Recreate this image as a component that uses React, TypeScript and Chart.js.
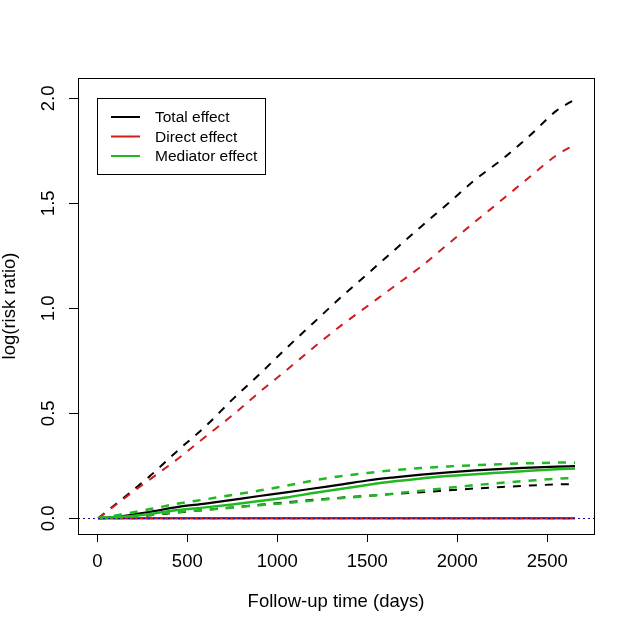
import React, { useEffect, useRef } from 'react';
import Chart from 'chart.js/auto';

// follow-up time grid (days) shared by all curves
const followUpDays = [5, 150, 300, 450, 600, 750, 900, 1050, 1200, 1350, 1500, 1650, 1800, 1950, 2100, 2250, 2400, 2550, 2654];

// total effect and its confidence band
const totalEffect = [0, 0.012, 0.032, 0.054, 0.07, 0.088, 0.106, 0.123, 0.142, 0.16, 0.18, 0.195, 0.208, 0.219, 0.228, 0.235, 0.241, 0.246, 0.248];
const totalUpper = [0, 0.1, 0.207, 0.325, 0.437, 0.565, 0.685, 0.81, 0.93, 1.05, 1.163, 1.277, 1.39, 1.5, 1.613, 1.71, 1.82, 1.94, 1.995];
const totalLower = [0, 0.004, 0.015, 0.028, 0.04, 0.052, 0.064, 0.076, 0.088, 0.098, 0.107, 0.116, 0.124, 0.133, 0.142, 0.149, 0.156, 0.161, 0.163];

// direct effect and its confidence band
const directEffect = [0, 0, 0, 0, 0, 0, 0, 0, 0, 0, 0, 0, 0, 0, 0, 0, 0, 0, 0];
const directUpper = [0, 0.095, 0.19, 0.285, 0.388, 0.49, 0.6, 0.705, 0.812, 0.915, 1.01, 1.105, 1.2, 1.307, 1.413, 1.518, 1.624, 1.728, 1.78];
const directLower = [0, 0, 0, 0, 0, 0, 0, 0, 0, 0, 0, 0, 0, 0, 0, 0, 0, 0, 0];

// mediator effect and its confidence band
const mediatorEffect = [0, 0.008, 0.022, 0.04, 0.052, 0.066, 0.082, 0.099, 0.12, 0.14, 0.159, 0.176, 0.19, 0.201, 0.21, 0.218, 0.226, 0.233, 0.237];
const mediatorUpper = [0, 0.02, 0.045, 0.07, 0.09, 0.111, 0.132, 0.155, 0.18, 0.2, 0.216, 0.229, 0.239, 0.247, 0.253, 0.258, 0.262, 0.265, 0.266];
const mediatorLower = [0, 0.005, 0.017, 0.03, 0.04, 0.051, 0.062, 0.073, 0.085, 0.096, 0.106, 0.118, 0.131, 0.145, 0.158, 0.169, 0.179, 0.188, 0.192];

const xTicks = [0, 500, 1000, 1500, 2000, 2500];
const yTicks = [0, 0.5, 1, 1.5, 2];
const referenceLevel = 0;

const legendLabels = ['Total effect', 'Direct effect', 'Mediator effect'];

const BLACK = '#000000';
const RED = '#D01C1C';
const GREEN = '#22B822';
const legendColors = [BLACK, RED, GREEN];

const FONT = 'Liberation Sans, Arial, sans-serif';

const toPoints = (ys: number[]) => followUpDays.map((t, i) => ({ x: t, y: ys[i] }));

// box around the plot region, like R's box()
const boxPlugin = {
    id: 'plotBox',
    afterDraw(chart: any) {
        const { ctx, chartArea } = chart;
        ctx.save();
        ctx.strokeStyle = '#000';
        ctx.lineWidth = 1;
        ctx.strokeRect(chartArea.left + 0.5, chartArea.top + 0.5, chartArea.right - chartArea.left, chartArea.bottom - chartArea.top);
        ctx.restore();
    }
};

// abline(h = 0, lty = 3, col = 'blue')
const refLinePlugin = {
    id: 'refLine',
    afterDatasetsDraw(chart: any) {
        const { ctx, chartArea, scales } = chart;
        const y = Math.round(scales.y.getPixelForValue(referenceLevel)) + 0.5;
        ctx.save();
        ctx.strokeStyle = '#1010A0';
        ctx.lineWidth = 1;
        ctx.setLineDash([2, 3]);
        ctx.beginPath();
        ctx.moveTo(chartArea.left, y);
        ctx.lineTo(chartArea.right, y);
        ctx.stroke();
        ctx.restore();
    }
};

// R-style boxed legend in the top left corner
const legendPlugin = {
    id: 'rLegend',
    afterDraw(chart: any) {
        const { ctx, chartArea } = chart;
        const left = chartArea.left + 19;
        const top = chartArea.top + 20;
        ctx.save();
        ctx.strokeStyle = '#000';
        ctx.lineWidth = 1;
        ctx.strokeRect(left + 0.5, top + 0.5, 168, 76);
        ctx.font = `15.5px ${FONT}`;
        ctx.textBaseline = 'middle';
        ctx.textAlign = 'left';
        legendLabels.forEach((label, i) => {
            const y = top + 19 + i * 19.5;
            ctx.strokeStyle = legendColors[i];
            ctx.lineWidth = 2;
            ctx.beginPath();
            ctx.moveTo(left + 14, y);
            ctx.lineTo(left + 43, y);
            ctx.stroke();
            ctx.fillStyle = '#000';
            ctx.fillText(label, left + 58, y + 1);
        });
        ctx.restore();
    }
};

const App: React.FC = () => {
    const canvasRef = useRef<HTMLCanvasElement>(null);
    const chartRef = useRef<Chart>();

    useEffect(() => {
        document.body.style.margin = '0';
        if (!canvasRef.current) return;
        const ctx = canvasRef.current.getContext('2d');
        if (!ctx) return;
        if (chartRef.current) chartRef.current.destroy();

        const dashed = [8, 8];
        chartRef.current = new Chart(ctx, {
            type: 'line',
            data: {
                datasets: [
                    { label: 'Mediator effect', data: toPoints(mediatorEffect), borderColor: GREEN, borderWidth: 2.5, order: 1 },
                    { label: 'Mediator upper', data: toPoints(mediatorUpper), borderColor: GREEN, borderWidth: 2.5, borderDash: dashed, order: 2 },
                    { label: 'Mediator lower', data: toPoints(mediatorLower), borderColor: GREEN, borderWidth: 2.5, borderDash: dashed, order: 3 },
                    { label: 'Direct effect', data: toPoints(directEffect), borderColor: RED, borderWidth: 2.5, order: 4 },
                    { label: 'Direct upper', data: toPoints(directUpper), borderColor: RED, borderWidth: 2, borderDash: dashed, order: 5 },
                    { label: 'Direct lower', data: toPoints(directLower), borderColor: RED, borderWidth: 2, borderDash: dashed, order: 6 },
                    { label: 'Total effect', data: toPoints(totalEffect), borderColor: BLACK, borderWidth: 2.2, order: 7 },
                    { label: 'Total upper', data: toPoints(totalUpper), borderColor: BLACK, borderWidth: 2, borderDash: dashed, order: 8 },
                    { label: 'Total lower', data: toPoints(totalLower), borderColor: BLACK, borderWidth: 2, borderDash: dashed, order: 9 }
                ]
            },
            options: {
                animation: false,
                responsive: false,
                devicePixelRatio: 1,
                layout: { padding: { top: 78, right: 40, left: 0, bottom: 0 } },
                elements: {
                    point: { radius: 0 },
                    line: { cubicInterpolationMode: 'monotone', fill: false }
                },
                plugins: {
                    legend: { display: false },
                    tooltip: { enabled: false }
                },
                scales: {
                    x: {
                        type: 'linear',
                        min: -107.2,
                        max: 2759.4,
                        afterBuildTicks: (scale: any) => { scale.ticks = xTicks.map(v => ({ value: v })); },
                        afterFit: (scale: any) => { scale.height = 99; },
                        grid: { display: true, drawOnChartArea: false, drawTicks: true, tickLength: 8, color: '#000', tickColor: '#000' },
                        border: { display: false },
                        ticks: {
                            color: '#000',
                            padding: 9,
                            maxRotation: 0,
                            font: { family: FONT, size: 18.5 },
                            callback: (v: any) => String(v)
                        },
                        title: {
                            display: true,
                            text: 'Follow-up time (days)',
                            color: '#000',
                            font: { family: FONT, size: 18.5 },
                            padding: { top: 0, bottom: 20 }
                        }
                    },
                    y: {
                        type: 'linear',
                        min: -0.0748,
                        max: 2.0967,
                        afterBuildTicks: (scale: any) => { scale.ticks = yTicks.map(v => ({ value: v })); },
                        afterFit: (scale: any) => { scale.width = 78; },
                        grid: { display: true, drawOnChartArea: false, drawTicks: true, tickLength: 9, color: '#000', tickColor: '#000' },
                        border: { display: false },
                        ticks: {
                            color: '#000',
                            padding: 7,
                            minRotation: 90,
                            maxRotation: 90,
                            crossAlign: 'center',
                            font: { family: FONT, size: 18.5 },
                            callback: (v: any) => Number(v).toFixed(1)
                        },
                        title: {
                            display: true,
                            text: 'log(risk ratio)',
                            color: '#000',
                            font: { family: FONT, size: 18.5 },
                            padding: { top: -1, bottom: 0 }
                        }
                    }
                }
            } as any,
            plugins: [refLinePlugin, boxPlugin, legendPlugin]
        });

        return () => {
            if (chartRef.current) {
                chartRef.current.destroy();
                chartRef.current = undefined;
            }
        };
    }, []);

    return (
        <div style={{ width: 634, height: 633, background: '#fff' }}>
            <canvas ref={canvasRef} width={634} height={633}></canvas>
        </div>
    );
};

export default App;
